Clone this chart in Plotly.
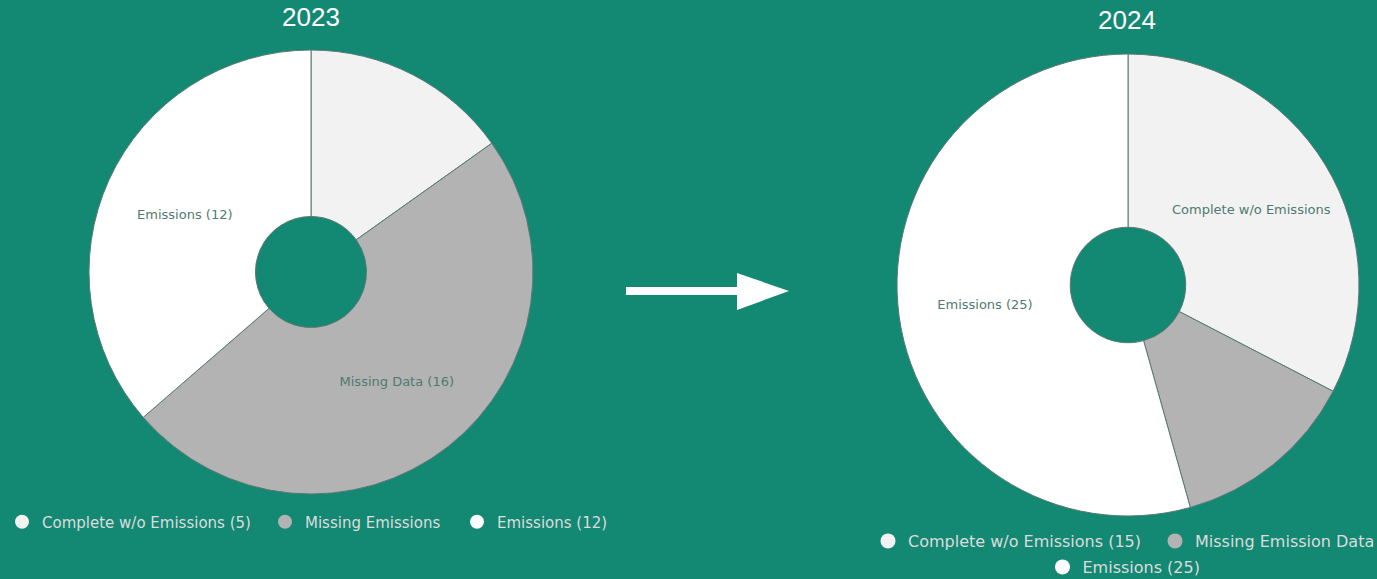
import plotly.graph_objects as go

W, H = 1377, 579

# Category order shared by both years (clockwise from 12 o'clock)
categories = ["Complete w/o Emissions", "Missing Data", "Emissions"]

counts_2023 = [5, 16, 12]
counts_2024 = [15, 6, 25]

slice_text_2023 = ["", "Missing Data (16)", "Emissions (12)"]
slice_text_2024 = ["Complete w/o Emissions", "", "Emissions (25)"]

legend_names_2023 = ["Complete w/o Emissions (5)", "Missing Emissions", "Emissions (12)"]
legend_names_2024 = ["Complete w/o Emissions (15)", "Missing Emission Data", "Emissions (25)"]

slice_colors = ["#f2f2f2", "#b3b3b3", "#ffffff"]
BG = "#138873"
EDGE = "#587a72"
LABEL = "#4f7a70"


def px_x(x):
    return x / W


def px_y(y):
    return 1 - y / H


fig = go.Figure()

pie_common = dict(
    sort=False,
    direction="clockwise",
    rotation=0,
    hole=0.25,
    textinfo="text",
    textposition="inside",
    insidetextorientation="horizontal",
    textfont=dict(family="DejaVu Sans", size=13, color=LABEL),
    marker=dict(colors=slice_colors, line=dict(color=EDGE, width=1)),
    showlegend=False,
    hoverinfo="label+value",
)

fig.add_trace(go.Pie(
    labels=categories, values=counts_2023, text=slice_text_2023,
    domain=dict(x=[px_x(89), px_x(533)], y=[px_y(494), px_y(50)]),
    **pie_common,
))
fig.add_trace(go.Pie(
    labels=categories, values=counts_2024, text=slice_text_2024,
    domain=dict(x=[px_x(897), px_x(1359)], y=[px_y(516), px_y(54)]),
    **pie_common,
))

# Legend entries drawn as circle markers; each entry has its own legend box
legends_2023 = ["legend", "legend4", "legend5"]
legends_2024 = ["legend2", "legend6", "legend3"]
for name, color, lg in zip(legend_names_2023, slice_colors, legends_2023):
    fig.add_trace(go.Scatter(
        x=[None], y=[None], mode="markers", name=name,
        marker=dict(symbol="circle", size=14, color=color),
        legend=lg,
    ))
for name, color, lg in zip(legend_names_2024, slice_colors, legends_2024):
    fig.add_trace(go.Scatter(
        x=[None], y=[None], mode="markers", name=name,
        marker=dict(symbol="circle", size=15, color=color),
        legend=lg,
    ))

legend_common = dict(
    orientation="h", bgcolor="rgba(0,0,0,0)",
    yanchor="middle", itemclick=False, itemdoubleclick=False,
)
font_2023 = dict(family="DejaVu Sans", size=15, color="#dcdcdc")
font_2024 = dict(family="DejaVu Sans", size=16, color="#dcdcdc")

fig.update_layout(
    width=W, height=H,
    margin=dict(l=0, r=0, t=0, b=0, autoexpand=False),
    paper_bgcolor=BG, plot_bgcolor=BG,
    xaxis=dict(visible=False), yaxis=dict(visible=False),
    legend=dict(x=px_x(2), xanchor="left", y=px_y(522), font=font_2023, **legend_common),
    legend4=dict(x=px_x(265), xanchor="left", y=px_y(522), font=font_2023, **legend_common),
    legend5=dict(x=px_x(457), xanchor="left", y=px_y(522), font=font_2023, **legend_common),
    legend2=dict(x=px_x(868), xanchor="left", y=px_y(541), font=font_2024, **legend_common),
    legend6=dict(x=px_x(1155), xanchor="left", y=px_y(541), font=font_2024, **legend_common),
    legend3=dict(x=px_x(1124), xanchor="center", y=px_y(567), font=font_2024, **legend_common),
    annotations=[
        dict(text="2023", x=px_x(311), y=px_y(17), xref="paper", yref="paper",
             xanchor="center", yanchor="middle", showarrow=False,
             font=dict(family="Liberation Sans", size=26, color="#ffffff")),
        dict(text="2024", x=px_x(1127), y=px_y(20), xref="paper", yref="paper",
             xanchor="center", yanchor="middle", showarrow=False,
             font=dict(family="Liberation Sans", size=26, color="#ffffff")),
    ],
    shapes=[
        # arrow shaft
        dict(type="rect", xref="paper", yref="paper",
             x0=px_x(626), x1=px_x(739), y0=px_y(295), y1=px_y(287),
             fillcolor="#ffffff", line=dict(width=0)),
        # arrow head
        dict(type="path", xref="paper", yref="paper",
             path=f"M {px_x(737)} {px_y(273)} L {px_x(789)} {px_y(291)} L {px_x(737)} {px_y(310)} Z",
             fillcolor="#ffffff", line=dict(width=0)),
    ],
)

fig.write_html("out.html")
